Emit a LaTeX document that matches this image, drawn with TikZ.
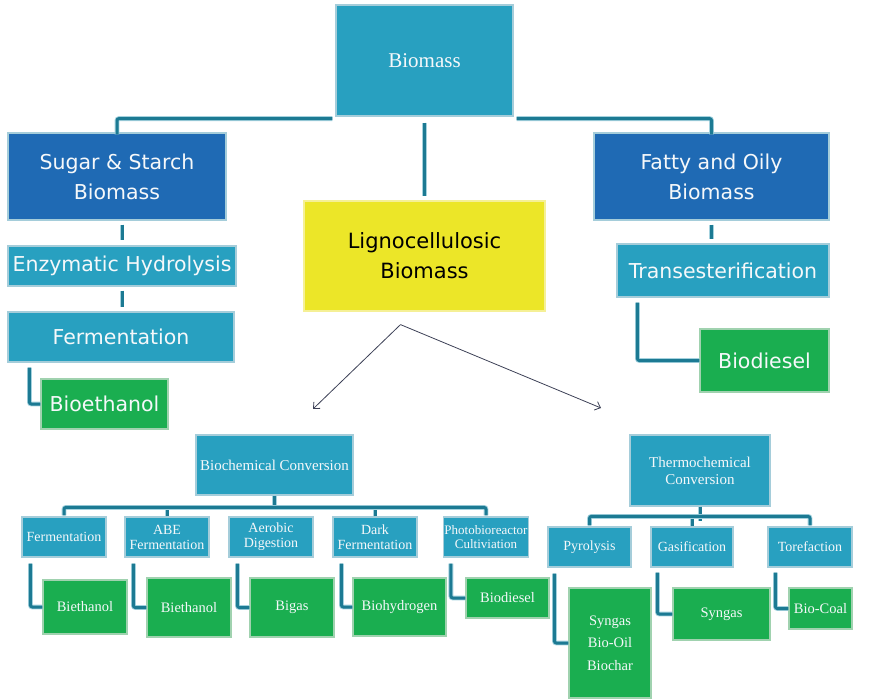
\documentclass[tikz,border=0pt]{standalone}
\usepackage{fontspec}
\setmainfont{Liberation Serif}
\newfontfamily\sansf{DejaVu Sans}
\usetikzlibrary{arrows.meta}
\definecolor{tealbox}{RGB}{40,160,192}
\definecolor{bluebox}{RGB}{31,106,180}
\definecolor{greenbox}{RGB}{26,174,80}
\definecolor{yellowbox}{RGB}{236,230,40}
\definecolor{boxedge}{RGB}{165,205,218}
\definecolor{greenedge}{RGB}{160,210,175}
\definecolor{yellowedge}{RGB}{245,240,150}
\definecolor{connedge}{RGB}{165,210,222}
\definecolor{conndark}{RGB}{28,122,147}
\definecolor{arrowc}{RGB}{60,64,86}
\definecolor{offwhite}{RGB}{245,248,250}
\tikzset{
  box/.style={draw=boxedge, line width=1.2pt, inner sep=1pt, align=center, text=offwhite},
  sz/.style 2 args={minimum width=#1pt, minimum height=#2pt},
  tealb/.style={box, fill=tealbox},
  blueb/.style={box, fill=bluebox},
  greenb/.style={box, fill=greenbox, draw=greenedge},
  yellowb/.style={box, fill=yellowbox, draw=yellowedge, text=black},
  bigsans/.style={font=\sansf\fontsize{20.5}{30}\selectfont},
  smallser/.style={font=\fontsize{14}{15}\selectfont},
  greenser/.style={font=\fontsize{14.5}{22.5}\selectfont},
  conn/.style={draw=connedge, line width=0.9pt, double=conndark, double distance=3pt, rounded corners=2pt},
  arr/.style={draw=arrowc, line width=0.8pt, -{Straight Barb[length=5pt,width=9pt]}},
}
\begin{document}
\begin{tikzpicture}[x=1pt,y=-1pt]
\useasboundingbox (0,0) rectangle (872,699);
% top level
\node[tealb, sz={177}{111}, font=\fontsize{21}{25}\selectfont] (biomass) at (424.5,60.5) {Biomass};
\node[blueb, sz={218}{87}, bigsans] (sugar) at (117,176.5) {Sugar \& Starch\\Biomass};
\node[blueb, sz={235}{87}, bigsans] (fatty) at (711.5,176.5) {Fatty and Oily\\Biomass};
\node[yellowb, sz={241}{110}, font=\sansf\fontsize{21}{30}\selectfont] (ligno) at (424.5,256) {Lignocellulosic\\Biomass};
\node[tealb, sz={228}{40}, bigsans] (enz) at (122,266) {Enzymatic Hydrolysis};
\node[tealb, sz={226}{50}, bigsans] (ferm) at (121,337) {Fermentation};
\node[greenb, sz={127}{50}, bigsans] (bioeth) at (104.5,404) {Bioethanol};
\node[tealb, sz={212}{53}, bigsans] (trans) at (723,270.5) {Transesterification};
\node[greenb, sz={129}{63}, bigsans] (biodiesel) at (764.5,360.5) {Biodiesel};
% biochemical
\node[tealb, sz={157}{60}, font=\fontsize{15}{17}\selectfont] (biochem) at (274.5,465) {Biochemical Conversion};
\node[tealb, sz={84}{40}, smallser] (bferm) at (64,537) {Fermentation};
\node[tealb, sz={84}{40}, smallser] (babe) at (167,537) {ABE\\Fermentation};
\node[tealb, sz={84}{40}, smallser] (baer) at (271,537) {Aerobic\\Digestion};
\node[tealb, sz={84}{40}, smallser] (bdark) at (375,537) {Dark\\Fermentation};
\node[tealb, sz={84}{40}, font=\fontsize{13}{14}\selectfont] (bphoto) at (486,537) {Photobioreactor\\Cultiviation};
\node[greenb, sz={84}{54}, greenser] (g1) at (85,607) {Biethanol};
\node[greenb, sz={84}{59}, greenser] (g2) at (189,607.5) {Biethanol};
\node[greenb, sz={84}{59}, greenser] (g3) at (292,607.5) {Bigas};
\node[greenb, sz={93}{58}, greenser] (g4) at (399.5,607) {Biohydrogen};
\node[greenb, sz={83}{40}, greenser] (g5) at (507.5,598) {Biodiesel};
% thermochemical
\node[tealb, sz={140}{71}, font=\fontsize{15}{17}\selectfont] (thermo) at (700,470.5) {Thermochemical\\Conversion};
\node[tealb, sz={83}{40}, smallser] (tpyro) at (589.5,547) {Pyrolysis};
\node[tealb, sz={82}{40}, smallser] (tgas) at (692,547) {Gasification};
\node[tealb, sz={84}{40}, smallser] (ttore) at (810,547) {Torefaction};
\node[greenb, sz={82}{110}, greenser] (tg1) at (610,643) {Syngas\\Bio-Oil\\Biochar};
\node[greenb, sz={97}{52}, greenser] (tg2) at (721.5,614) {Syngas};
\node[greenb, sz={63}{41}, greenser] (tg3) at (820.5,608.5) {Bio-Coal};
% top connectors
\draw[conn] ([shift={(-3,2)}]biomass.south west) -| ([yshift=-2pt]sugar.north);
\draw[conn] ([shift={(3,2)}]biomass.south east) -| ([yshift=-2pt]fatty.north);
\draw[conn, shorten <=6pt, shorten >=4pt] (biomass.south) -- (ligno.north);
\draw[conn, shorten <=4pt, shorten >=5pt] (enz.north |- sugar.south) -- (enz.north);
\draw[conn, shorten <=4pt, shorten >=4pt] (enz.south) -- (enz.south |- ferm.north);
\draw[conn] (ferm.south west) ++(22,5) |- (bioeth.west);
\draw[conn, shorten <=4pt, shorten >=4pt] (fatty.south) -- (fatty.south |- trans.north);
\draw[conn] (trans.south west) ++(21,5) |- (biodiesel.west);
% arrows
\coordinate (bcend) at (313,409);
\coordinate (tcend) at (601,408);
\draw[arr] ([shift={(-24,13)}]ligno.south) -- (bcend);
\draw[arr] ([shift={(-24,13)}]ligno.south) -- (tcend);
% biochemical bus
\draw[conn] (biochem.south) -- ++(0,14);
\draw[conn] (babe.north) -- ++(0,-10);
\draw[conn] (bdark.north) -- ++(0,-10);
\draw[conn] (bferm.north) ++(0,-1) -- ++(0,-8) -| ([yshift=1pt]bphoto.north);
\draw[conn] (bferm.south west) ++(9,6) |- (g1.west);
\draw[conn] (babe.south west) ++(9,6) |- (g2.west);
\draw[conn] (baer.south west) ++(9,6) |- (g3.west);
\draw[conn] (bdark.south west) ++(9,6) |- (g4.west);
\draw[conn] (bphoto.south west) ++(8,6) |- (g5.west);
% thermochemical bus
\draw[conn] (thermo.south) -- ++(0,14);
\draw[conn] (tgas.north) -- ++(0,-10);
\draw[conn] (tpyro.north) ++(0,-1) -- ++(0,-9) -| ([yshift=1pt]ttore.north);
\draw[conn] (tpyro.south west) ++(7,6) |- (tg1.west);
\draw[conn] (tgas.south west) ++(7,5) |- (tg2.west);
\draw[conn] (ttore.south west) ++(8,5) |- (tg3.west);
\end{tikzpicture}
\end{document}
